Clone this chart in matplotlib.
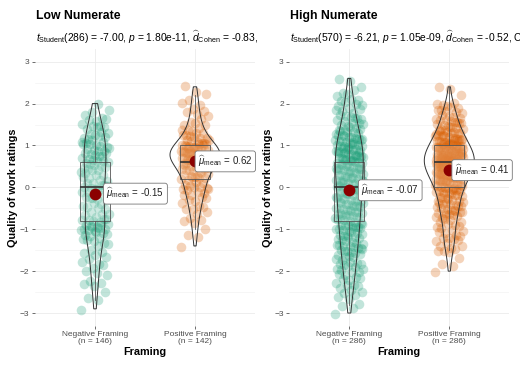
import numpy as np
import matplotlib
matplotlib.use('Agg')
import matplotlib.pyplot as plt
from matplotlib.patches import Rectangle, Polygon

plt.rcParams['font.family'] = ['Liberation Sans', 'DejaVu Sans']
plt.rcParams['mathtext.fontset'] = 'custom'
plt.rcParams['mathtext.rm'] = 'Liberation Sans'
plt.rcParams['mathtext.it'] = 'Liberation Sans:italic'
plt.rcParams['mathtext.bf'] = 'Liberation Sans:bold'

# rating levels (-3.0 .. 2.6 in steps of 0.1) and how many ratings sit at each
levels = np.round(np.arange(-30, 27) / 10, 1)

low_neg = [0, 1, 0, 1, 1, 1, 1, 2, 1, 1,
           2, 2, 2, 2, 2, 2, 2, 3, 3, 4,
           7, 5, 5, 3, 3, 3, 3, 3, 3, 3,
           7, 3, 4, 3, 4, 4, 5, 4, 5, 5,
           5, 4, 5, 3, 3, 3, 3, 2, 2, 0,
           1, 0, 0, 0, 0, 0, 0]
low_pos = [0, 0, 0, 0, 0, 0, 0, 0, 0, 0,
           0, 0, 0, 0, 0, 0, 1, 0, 1, 1,
           1, 1, 2, 1, 2, 3, 2, 3, 3, 4,
           5, 3, 5, 6, 6, 7, 9, 11, 12, 10,
           9, 6, 5, 4, 3, 3, 2, 2, 2, 1,
           2, 1, 1, 1, 1, 0, 0]
high_neg = [1, 1, 2, 1, 2, 2, 3, 3, 3, 3,
            4, 4, 4, 4, 4, 6, 6, 5, 5, 5,
            7, 6, 6, 7, 7, 7, 7, 7, 7, 7,
            8, 8, 8, 8, 8, 8, 9, 9, 9, 9,
            8, 8, 7, 6, 5, 5, 4, 4, 3, 3,
            3, 3, 2, 2, 1, 1, 1]
high_pos = [0, 0, 0, 0, 0, 0, 0, 0, 0, 0,
            1, 1, 1, 1, 1, 3, 3, 3, 4, 4,
            2, 4, 4, 5, 6, 6, 6, 6, 7, 7,
            9, 10, 11, 13, 14, 15, 17, 17, 15, 14,
            12, 11, 9, 8, 7, 6, 5, 4, 4, 4,
            3, 0, 1, 1, 1, 0, 0]

titles = ["Low Numerate", "High Numerate"]
subtitles = [
    r"$t_{\mathrm{Student}}$(286) = -7.00, $p$ = 1.80e-11, $\widehat{d}_{\mathrm{Cohen}}$ = -0.83,",
    r"$t_{\mathrm{Student}}$(570) = -6.21, $p$ = 1.05e-09, $\widehat{d}_{\mathrm{Cohen}}$ = -0.52, CI$_{95\%}$ [-0.69, -0.35]",
]
groups = ["Negative Framing", "Positive Framing"]
counts = [[low_neg, low_pos], [high_neg, high_pos]]
means = [[-0.15, 0.62], [-0.07, 0.41]]
q1 = [[-0.8, 0.2], [-0.8, 0.0]]
med = [[0.0, 0.6], [0.0, 0.6]]
q3 = [[0.6, 1.0], [0.6, 1.0]]

colors = ['#1B9E77', '#D95F02']
label_dx = [[0.115, 0.03], [0.12, 0.055]]

W, H = 520, 371
fig = plt.figure(figsize=(5.2, 3.71), dpi=100)
panel_left = [35, 289.3]


def density(vals, grid):
    n = len(vals)
    iqr = np.subtract(*np.percentile(vals, [75, 25]))
    bw = 0.9 * min(vals.std(ddof=1), iqr / 1.34) * n ** -0.2
    z = (grid[:, None] - vals[None, :]) / bw
    return np.exp(-0.5 * z ** 2).sum(axis=1) / (n * bw * np.sqrt(2 * np.pi))


for p in range(2):
    ax = fig.add_axes([panel_left[p] / W, 45.4 / H, 220 / W, 276.5 / H])
    ax.set_xlim(0.4, 2.6)
    ax.set_ylim(-3.3, 3.3)
    ax.set_yticks(range(-3, 4))
    ax.set_yticks(np.arange(-3, 3.5, 0.5), minor=True)
    ax.set_axisbelow(True)
    ax.grid(which='major', color='#ebebeb', lw=0.6)
    ax.grid(which='minor', axis='y', color='#f0f0f0', lw=0.4)
    for s in ax.spines.values():
        s.set_visible(False)

    data = [np.repeat(levels, c) for c in counts[p]]
    dens = []
    for vals in data:
        g = np.linspace(vals.min(), vals.max(), 256)
        dens.append((g, density(vals, g)))
    dmax = max(d.max() for _, d in dens)

    for k, vals in enumerate(data):
        x0 = k + 1
        idx = np.arange(len(vals))
        # deterministic jitter (display only)
        jx = ((idx * 0.6180339887) % 1 - 0.5) * 0.28
        jy = ((idx * 0.4142135624 + 0.3) % 1 - 0.5) * 0.1
        ax.scatter(x0 + jx, vals + jy, s=48, color=colors[k], alpha=0.27,
                   linewidths=0, zorder=2)

        lo_lim = q1[p][k] - 1.5 * (q3[p][k] - q1[p][k])
        hi_lim = q3[p][k] + 1.5 * (q3[p][k] - q1[p][k])
        stats = dict(med=med[p][k], q1=q1[p][k], q3=q3[p][k],
                     whislo=vals[vals >= lo_lim].min(),
                     whishi=vals[vals <= hi_lim].max())
        ax.bxp([stats], positions=[x0], widths=0.3, showfliers=False,
               showcaps=False, patch_artist=True,
               boxprops=dict(facecolor=(1, 1, 1, 0.2), edgecolor='#555555', lw=0.6),
               whiskerprops=dict(color='#555555', lw=0.6),
               medianprops=dict(color='#333333', lw=1.2), zorder=3)

        g, d = dens[k]
        half = d / dmax * 0.25
        xs = np.concatenate([x0 - half, (x0 + half)[::-1]])
        ys = np.concatenate([g, g[::-1]])
        ax.add_patch(Polygon(np.column_stack([xs, ys]), closed=True,
                             fill=False, ec='#333333', lw=0.7, zorder=4))

        ax.scatter([x0], [means[p][k]], s=72, color='#8B0000', zorder=5,
                   linewidths=0)
        ax.text(x0 + label_dx[p][k], means[p][k],
                r"$\widehat{\mu}_{\mathrm{mean}}$ = " + f"{means[p][k]:.2f}",
                ha='left', va='center', fontsize=7, color='#222222', zorder=6,
                bbox=dict(boxstyle='round,pad=0.3,rounding_size=0.25',
                          fc='white', ec='#777777', lw=0.6))

    ax.set_xticks([1, 2])
    ax.set_xticklabels([f"{groups[k]}\n(n = {len(data[k])})" for k in range(2)],
                       linespacing=1.0)
    ax.tick_params(axis='both', length=2.5, width=0.5, color='#333333',
                   labelsize=6, labelcolor='#4d4d4d', pad=1.5)
    ax.tick_params(which='minor', length=0)
    ax.set_xlabel("Framing", fontsize=7.8, fontweight='bold', labelpad=1)
    ax.set_ylabel("Quality of work ratings", fontsize=7.8, fontweight='bold',
                  labelpad=1)

    fig.text((panel_left[p] + 1) / W, 1 - 15.7 / H, titles[p], fontsize=8.8,
             fontweight='bold', ha='left', va='center')
    st = fig.text((panel_left[p] + 1) / W, 1 - 37 / H, subtitles[p],
                  fontsize=7.4, ha='left', va='center')
    st.set_clip_path(Rectangle((p * 0.5, 0), 0.5, 1, transform=fig.transFigure))

fig.savefig('out.png', dpi=100)
